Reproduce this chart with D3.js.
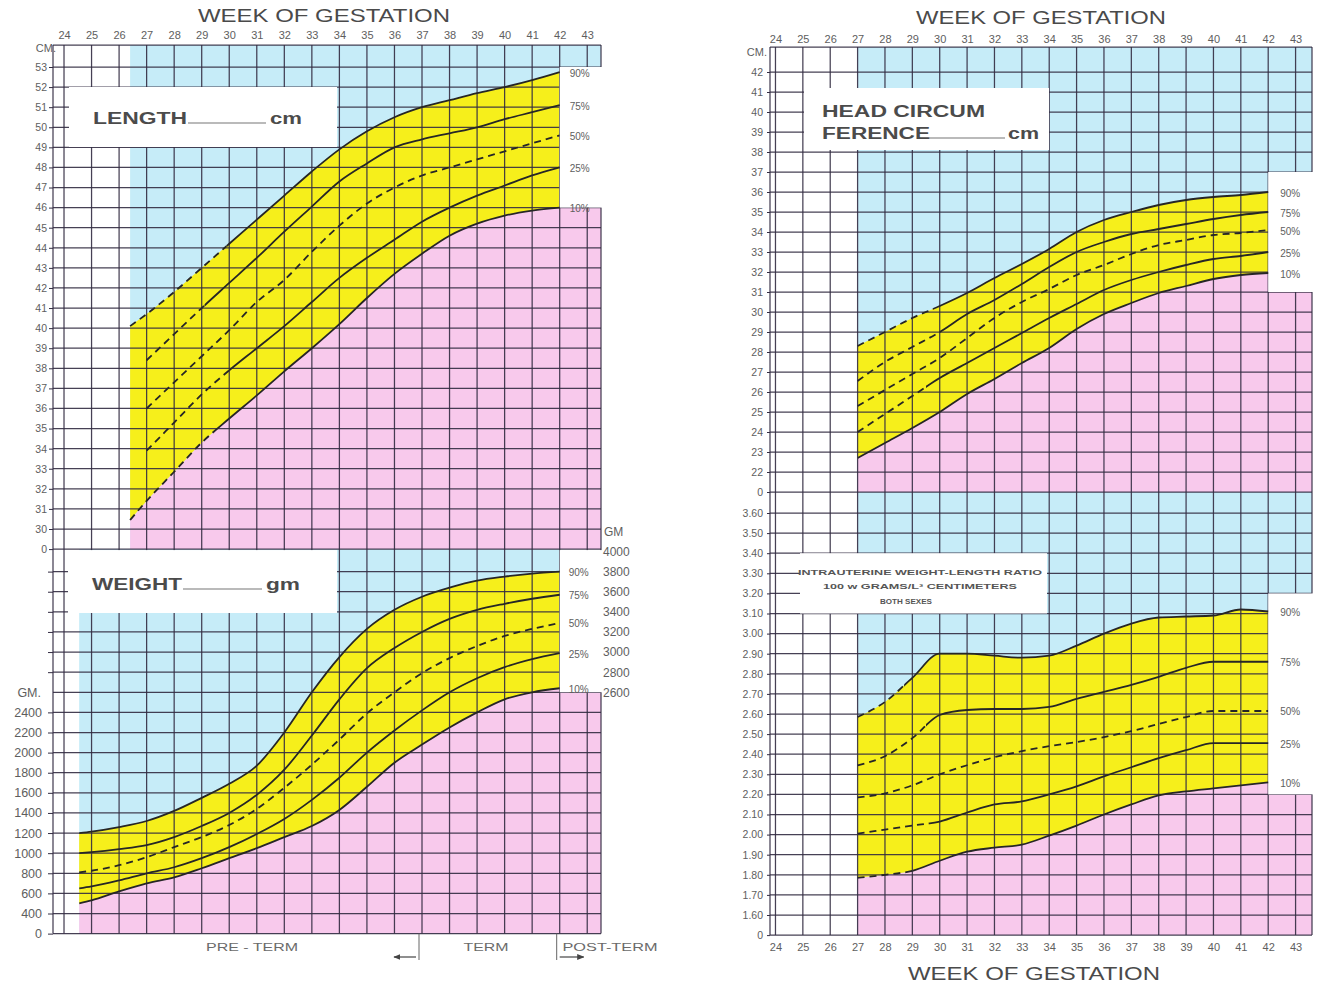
<!DOCTYPE html>
<html><head><meta charset="utf-8">
<script src="https://cdn.jsdelivr.net/npm/d3@7"></script>
<style>
body{margin:0;background:#fff;}
svg{display:block;font-family:"Liberation Sans",Arial,sans-serif;}
</style></head><body>
<svg id="c" width="1318" height="985"></svg>
<script>
// ---------------- DATA ----------------
const weeks = d3.range(24, 44);
const percentLabels = ["90%", "75%", "50%", "25%", "10%"];

// Length (cm)
const lengthWeeks = [26.4, 27, 28, 29, 30, 31, 32, 33, 34, 35, 36, 37, 38, 39, 40, 41, 42];
const length90 = [40.1, 40.7, 41.8, 43.0, 44.2, 45.4, 46.6, 47.8, 48.9, 49.8, 50.5, 51.0, 51.35, 51.7, 52.0, 52.35, 52.75];
const length75 = [null, 38.4, 39.7, 41.0, 42.25, 43.5, 44.8, 46.05, 47.3, 48.2, 49.0, 49.4, 49.7, 50.0, 50.4, 50.75, 51.1];
const length50 = [null, 36.0, 37.3, 38.6, 39.9, 41.3, 42.4, 43.8, 45.1, 46.2, 47.0, 47.6, 48.0, 48.4, 48.8, 49.2, 49.6];
const length25 = [null, 33.9, 35.3, 36.7, 37.9, 39.0, 40.1, 41.3, 42.5, 43.5, 44.4, 45.3, 46.0, 46.6, 47.1, 47.6, 48.0];
const length10 = [30.45, 31.4, 32.85, 34.3, 35.5, 36.65, 37.85, 39.0, 40.2, 41.5, 42.7, 43.7, 44.6, 45.2, 45.6, 45.85, 46.0];
const lengthTicks = d3.range(29, 54);          // 29 is the broken-axis row labelled "0"

// Weight (g)
const weightWeeks = [24.55, 25, 26, 27, 28, 29, 30, 31, 32, 33, 34, 35, 36, 37, 38, 39, 40, 41, 42];
const weight90 = [1200, 1215, 1260, 1320, 1420, 1550, 1690, 1870, 2200, 2600, 2950, 3230, 3420, 3550, 3640, 3710, 3750, 3780, 3800];
const weight75 = [1000, 1010, 1040, 1080, 1160, 1270, 1400, 1580, 1830, 2170, 2530, 2840, 3040, 3200, 3330, 3420, 3480, 3530, 3570];
const weight50 = [810, 825, 880, 960, 1060, 1160, 1280, 1440, 1650, 1880, 2130, 2390, 2600, 2790, 2940, 3060, 3160, 3230, 3290];
const weight25 = [650, 670, 730, 800, 860, 950, 1060, 1190, 1340, 1530, 1750, 2000, 2220, 2420, 2600, 2740, 2850, 2930, 2990];
const weight10 = [500, 530, 620, 700, 760, 850, 950, 1050, 1160, 1270, 1430, 1660, 1900, 2080, 2250, 2400, 2530, 2600, 2640];
const weightLeftTicks = d3.range(200, 2401, 200);   // 200 row labelled "0"
const weightRightTicks = d3.range(2600, 4001, 200);

// Head circumference (cm)
const hcWeeks = d3.range(27, 43);
const hc90 = [28.3, 29.0, 29.7, 30.3, 30.95, 31.7, 32.4, 33.15, 34.0, 34.6, 35.0, 35.35, 35.6, 35.75, 35.85, 36.0];
const hc75 = [26.55, 27.5, 28.25, 29.0, 29.9, 30.6, 31.4, 32.25, 33.0, 33.5, 33.9, 34.15, 34.4, 34.65, 34.85, 35.0];
const hc50 = [25.3, 26.1, 26.9, 27.7, 28.7, 29.7, 30.5, 31.15, 31.85, 32.35, 32.9, 33.35, 33.6, 33.85, 33.95, 34.1];
const hc25 = [24.0, 24.9, 25.8, 26.7, 27.45, 28.2, 28.95, 29.7, 30.4, 31.1, 31.6, 32.0, 32.35, 32.65, 32.8, 33.0];
const hc10 = [22.7, 23.45, 24.2, 25.0, 25.9, 26.65, 27.45, 28.2, 29.15, 29.9, 30.45, 30.95, 31.3, 31.65, 31.85, 31.95];
const hcTicks = d3.range(21, 43);              // 21 row labelled "0"

// Weight-length ratio
const ratioWeeks = d3.range(27, 43);
const ratio90 = [2.585, 2.66, 2.78, 2.90, 2.90, 2.89, 2.88, 2.89, 2.94, 3.00, 3.05, 3.08, 3.085, 3.09, 3.12, 3.11];
const ratio75 = [2.345, 2.39, 2.48, 2.595, 2.62, 2.625, 2.625, 2.635, 2.675, 2.71, 2.745, 2.785, 2.83, 2.86, 2.86, 2.86];
const ratio50 = [2.185, 2.205, 2.245, 2.30, 2.345, 2.385, 2.415, 2.44, 2.46, 2.485, 2.515, 2.55, 2.585, 2.615, 2.615, 2.615];
const ratio25 = [2.005, 2.025, 2.045, 2.065, 2.11, 2.15, 2.165, 2.20, 2.24, 2.29, 2.335, 2.38, 2.42, 2.455, 2.455, 2.455];
const ratio10 = [1.785, 1.80, 1.82, 1.87, 1.915, 1.935, 1.95, 1.995, 2.045, 2.10, 2.15, 2.195, 2.215, 2.23, 2.245, 2.26];
const ratioTicks = d3.range(15, 37).map(v => v / 10);  // 1.5 row labelled "0"

// week up to which each percentile is drawn dashed (90,75,50,25,10)
const lengthDash = [29.9, 29.1, 99, 30.0, 29.45];
const weightDash = [0, 0, 99, 0, 0];
const hcDash = [29.75, 30.0, 99, 29.5, 0];
const ratioDash = [28.7, 29.5, 99, 29.6, 29.0];

// ---------------- STYLE ----------------
const C = {blue: "#c6ecf8", pink: "#f8c9ec", yellow: "#f6ef1b", grid: "#332c42",
           ink: "#262626", text: "#5e5e5e", title: "#4a4a4a"};

const svg = d3.select("#c");
const defs = svg.append("defs");
const gBg = svg.append("g"), gGrid = svg.append("g"), gBox = svg.append("g"),
      gLines = svg.append("g"), gText = svg.append("g");

// ---------------- SCALES ----------------
const xL = d3.scaleLinear().domain([23.6, 43.5]).range([53, 601]);
const yLen = d3.scaleLinear().domain([30, 53]).range([529, 67]);
const yWt = d3.scaleLinear().domain([400, 4000]).range([913.5, 551.5]);
const xR = d3.scaleLinear().domain([23.8, 43.6]).range([770, 1312]);
const yHC = d3.scaleLinear().domain([22, 42]).range([472, 72]);
const yRat = d3.scaleLinear().domain([1.6, 3.6]).range([915, 513]);

const L = {x0: xL.range()[0], x1: xL.range()[1], top: 45, mid: yLen(29), bot: yWt(200)};
const R = {x0: xR.range()[0], x1: xR.range()[1], top: 47, mid: yHC(21), bot: yRat(1.5)};

// ---------------- BACKGROUND COLOURS ----------------
function colourPanel(x, y, ws, s90, s10, xStart, blueRight, top, bot) {
  gBg.append("rect").attr("x", x(xStart)).attr("y", top)
    .attr("width", blueRight - x(xStart)).attr("height", bot - top).attr("fill", C.blue);
  const low = ws.map((w, i) => [w, s10[i]]).filter(d => d[1] != null);
  const lastV = low[low.length - 1][1];
  const pinkPts = low.concat([[x.invert(x.range()[1]), lastV]]);
  gBg.append("path").attr("fill", C.pink)
    .attr("d", d3.area().x(d => x(d[0])).y0(bot).y1(d => y(d[1])).curve(d3.curveMonotoneX)(pinkPts));
  const band = ws.map((w, i) => [w, s90[i], s10[i]]).filter(d => d[1] != null && d[2] != null);
  gBg.append("path").attr("fill", C.yellow)
    .attr("d", d3.area().x(d => x(d[0])).y0(d => y(d[2])).y1(d => y(d[1])).curve(d3.curveMonotoneX)(band));
}
colourPanel(xL, yLen, lengthWeeks, length90, length10, lengthWeeks[0], L.x1, L.top, L.mid);
colourPanel(xL, yWt, weightWeeks, weight90, weight10, weightWeeks[0], xL(42), L.mid, L.bot);
colourPanel(xR, yHC, hcWeeks, hc90, hc10, hcWeeks[0], R.x1, R.top, R.mid);
colourPanel(xR, yRat, ratioWeeks, ratio90, ratio10, ratioWeeks[0], R.x1, R.mid, R.bot);

// ---------------- GRID ----------------
function hline(y, x0, x1) {
  gGrid.append("line").attr("x1", x0).attr("x2", x1).attr("y1", y).attr("y2", y)
    .attr("stroke", C.grid).attr("stroke-width", 1.25).attr("opacity", 0.9);
}
function vline(x, y0, y1) {
  gGrid.append("line").attr("x1", x).attr("x2", x).attr("y1", y0).attr("y2", y1)
    .attr("stroke", C.grid).attr("stroke-width", 1.25).attr("opacity", 0.9);
}
weeks.forEach(w => vline(xL(w), L.top, L.bot));
[L.x0, L.x1].forEach(x => vline(x, L.top, L.bot));
hline(L.top, L.x0, L.x1);
lengthTicks.forEach(v => hline(yLen(v), L.x0, L.x1));
d3.range(200, 3801, 200).forEach(v => hline(yWt(v), L.x0, L.x1));

weeks.forEach(w => vline(xR(w), R.top, R.bot));
[R.x0, R.x1].forEach(x => vline(x, R.top, R.bot));
hline(R.top, R.x0, R.x1);
hcTicks.forEach(v => hline(yHC(v), R.x0, R.x1));
ratioTicks.forEach(v => hline(yRat(v), R.x0, R.x1));

// ---------------- WHITE BOXES ----------------
function box(x0, y0, x1, y1) {
  gBox.append("rect").attr("x", x0).attr("y", y0).attr("width", x1 - x0).attr("height", y1 - y0).attr("fill", "#fff");
}
box(69, 87, 337, 147);                               // LENGTH
box(xL(42), yLen(53), L.x1 + 1, yLen(46));           // length % labels
box(68, L.mid + 1, 337, 613);                        // WEIGHT
box(xL(42), L.mid + 1, L.x1 + 1, yWt(2600));         // weight % labels
box(804, 88, 1049, 150);                             // HEAD CIRCUM
box(xR(42), yHC(37), R.x1 + 1, yHC(31));             // hc % labels
box(800, yRat(3.4), 1047, yRat(3.1));                // ratio title
box(xR(42), yRat(3.2), R.x1 + 1, yRat(2.2));         // ratio % labels

// ---------------- CURVES ----------------
let clipN = 0;
function drawSeries(x, y, ws, series, dashCuts, top, bot, labelDx) {
  series.forEach((vals, i) => {
    const pts = ws.map((w, j) => [w, vals[j]]).filter(d => d[1] != null);
    const line = d3.line().x(d => x(d[0])).y(d => y(d[1])).curve(d3.curveMonotoneX);
    const first = pts[0][0], last = pts[pts.length - 1][0];
    const cut = Math.min(Math.max(dashCuts[i], first), last);
    const cx = x(cut);
    const idA = "cl" + (clipN++), idB = "cl" + (clipN++);
    defs.append("clipPath").attr("id", idA).append("rect")
      .attr("x", 0).attr("y", top - 5).attr("width", cx).attr("height", bot - top + 10);
    defs.append("clipPath").attr("id", idB).append("rect")
      .attr("x", cx).attr("y", top - 5).attr("width", 1318 - cx).attr("height", bot - top + 10);
    if (cut > first) gLines.append("path").attr("d", line(pts)).attr("clip-path", `url(#${idA})`)
      .attr("fill", "none").attr("stroke", C.ink).attr("stroke-width", 1.8).attr("stroke-dasharray", "7,5");
    if (cut < last) gLines.append("path").attr("d", line(pts)).attr("clip-path", `url(#${idB})`)
      .attr("fill", "none").attr("stroke", C.ink).attr("stroke-width", 1.8);
    const lv = pts[pts.length - 1];
    gText.append("text").attr("x", x(lv[0]) + labelDx).attr("y", y(lv[1]) + 1)
      .attr("text-anchor", "middle").attr("dominant-baseline", "central")
      .attr("font-size", 10).attr("fill", C.text).text(percentLabels[i]);
  });
}
drawSeries(xL, yLen, lengthWeeks, [length90, length75, length50, length25, length10], lengthDash, L.top, L.mid, 20);
drawSeries(xL, yWt, weightWeeks, [weight90, weight75, weight50, weight25, weight10], weightDash, L.mid, L.bot, 19);
drawSeries(xR, yHC, hcWeeks, [hc90, hc75, hc50, hc25, hc10], hcDash, R.top, R.mid, 22);
drawSeries(xR, yRat, ratioWeeks, [ratio90, ratio75, ratio50, ratio25, ratio10], ratioDash, R.mid, R.bot, 22);

// ---------------- AXES ----------------
function styleAxis(g, size) {
  g.select(".domain").remove();
  g.selectAll(".tick line").attr("stroke", C.grid).attr("stroke-width", 1);
  g.selectAll(".tick text").attr("fill", C.text).attr("font-size", size)
    .attr("font-family", "'Liberation Sans', Arial, sans-serif");
}
// week labels
gText.append("g").attr("transform", `translate(0,${L.top})`)
  .call(d3.axisTop(xL).tickValues(weeks).tickSize(0).tickPadding(6).tickFormat(d => d))
  .call(g => styleAxis(g, 11));
gText.append("g").attr("transform", `translate(0,${R.top})`)
  .call(d3.axisTop(xR).tickValues(weeks).tickSize(0).tickPadding(4).tickFormat(d => d))
  .call(g => styleAxis(g, 11));
gText.append("g").attr("transform", `translate(0,${R.bot})`)
  .call(d3.axisBottom(xR).tickValues(weeks).tickSize(0).tickPadding(8).tickFormat(d => d))
  .call(g => styleAxis(g, 11));

// length axis
gText.append("g").attr("transform", `translate(${L.x0},0)`)
  .call(d3.axisLeft(yLen).tickValues(lengthTicks).tickSize(4).tickPadding(2).tickFormat(d => d === 29 ? "0" : d))
  .call(g => styleAxis(g, 10.5));
// weight left axis
gText.append("g").attr("transform", `translate(${L.x0},0)`)
  .call(d3.axisLeft(yWt).tickValues(weightLeftTicks).tickSize(5).tickPadding(6).tickFormat(d => d === 200 ? "0" : String(d)))
  .call(g => styleAxis(g, 12.5));
gText.append("g").attr("transform", `translate(${L.x0},0)`)
  .call(d3.axisLeft(yWt).tickValues(d3.range(2800, 3801, 200)).tickSize(5).tickFormat(""))
  .call(g => styleAxis(g, 12.5));
// weight right axis
gText.append("g").attr("transform", `translate(${L.x1},0)`)
  .call(d3.axisRight(yWt).tickValues(weightRightTicks).tickSize(0).tickPadding(2).tickFormat(d => String(d)))
  .call(g => styleAxis(g, 12));
// head circumference axis
gText.append("g").attr("transform", `translate(${R.x0},0)`)
  .call(d3.axisLeft(yHC).tickValues(hcTicks).tickSize(3).tickPadding(4).tickFormat(d => d === 21 ? "0" : d))
  .call(g => styleAxis(g, 10.5));
// ratio axis
gText.append("g").attr("transform", `translate(${R.x0},0)`)
  .call(d3.axisLeft(yRat).tickValues(ratioTicks).tickSize(3).tickPadding(4).tickFormat(d => d === 1.5 ? "0" : d.toFixed(2)))
  .call(g => styleAxis(g, 10.5));

// unit labels
function txt(x, y, s, opts = {}) {
  const t = gText.append("text").attr("x", x).attr("y", y).text(s)
    .attr("font-size", opts.size || 11).attr("fill", opts.fill || C.text)
    .attr("text-anchor", opts.anchor || "start").attr("font-weight", opts.weight || "normal");
  if (opts.len) t.attr("textLength", opts.len).attr("lengthAdjust", "spacingAndGlyphs");
  return t;
}
txt(56, 52, "CM.", {anchor: "end", size: 11});
txt(41, yWt(2600) + 5, "GM.", {anchor: "end", size: 12.5});
txt(604, 536, "GM", {size: 12});
txt(767, 56, "CM.", {anchor: "end", size: 11});

// titles
txt(198, 22, "WEEK OF GESTATION", {size: 19, fill: C.title, len: 252});
txt(916, 24, "WEEK OF GESTATION", {size: 19, fill: C.title, len: 250});
txt(908, 980, "WEEK OF GESTATION", {size: 19, fill: C.title, len: 252});

// box labels
const boxInk = "#4b4b4b";
txt(93, 124, "LENGTH", {size: 16, weight: "bold", fill: boxInk, len: 94});
gText.append("line").attr("x1", 188).attr("x2", 266).attr("y1", 123).attr("y2", 123).attr("stroke", "#777").attr("stroke-width", 1.2);
txt(270, 124, "cm", {size: 16, weight: "bold", fill: boxInk, len: 32});
txt(92, 590, "WEIGHT", {size: 16, weight: "bold", fill: boxInk, len: 90});
gText.append("line").attr("x1", 183).attr("x2", 262).attr("y1", 589).attr("y2", 589).attr("stroke", "#777").attr("stroke-width", 1.2);
txt(266, 590, "gm", {size: 16, weight: "bold", fill: boxInk, len: 34});
txt(822, 117, "HEAD CIRCUM", {size: 16, weight: "bold", fill: boxInk, len: 163});
txt(822, 139, "FERENCE", {size: 16, weight: "bold", fill: boxInk, len: 108});
gText.append("line").attr("x1", 929).attr("x2", 1005).attr("y1", 138).attr("y2", 138).attr("stroke", "#777").attr("stroke-width", 1.2);
txt(1008, 139, "cm", {size: 16, weight: "bold", fill: boxInk, len: 31});
txt(920, 575, "INTRAUTERINE WEIGHT-LENGTH RATIO", {size: 7.5, weight: "bold", fill: "#555", anchor: "middle", len: 244});
txt(920, 589, "100 w GRAMS/L³ CENTIMETERS", {size: 7.5, weight: "bold", fill: "#555", anchor: "middle", len: 194});
txt(906, 604, "BOTH SEXES", {size: 7.5, weight: "bold", fill: "#555", anchor: "middle", len: 52});

// term markers
txt(252, 951, "PRE - TERM", {size: 11, anchor: "middle", fill: "#6a6a6a", len: 92});
txt(486, 951, "TERM", {size: 11, anchor: "middle", fill: "#6a6a6a", len: 45});
txt(610, 951, "POST-TERM", {size: 11, anchor: "middle", fill: "#6a6a6a", len: 95});
[37, 42].forEach(w => gText.append("line").attr("x1", xL(w) - 3).attr("x2", xL(w) - 3)
  .attr("y1", L.bot).attr("y2", 960).attr("stroke", "#666").attr("stroke-width", 1));
defs.append("marker").attr("id", "arr").attr("viewBox", "0 0 10 10").attr("refX", 9).attr("refY", 5)
  .attr("markerWidth", 6).attr("markerHeight", 6).attr("orient", "auto")
  .append("path").attr("d", "M0,1 L10,5 L0,9 Z").attr("fill", "#444");
gText.append("line").attr("x1", xL(37) - 6).attr("x2", xL(37) - 28).attr("y1", 957).attr("y2", 957)
  .attr("stroke", "#444").attr("stroke-width", 1.2).attr("marker-end", "url(#arr)");
gText.append("line").attr("x1", xL(42)).attr("x2", xL(42) + 24).attr("y1", 957).attr("y2", 957)
  .attr("stroke", "#444").attr("stroke-width", 1.2).attr("marker-end", "url(#arr)");
</script>
</body></html>
